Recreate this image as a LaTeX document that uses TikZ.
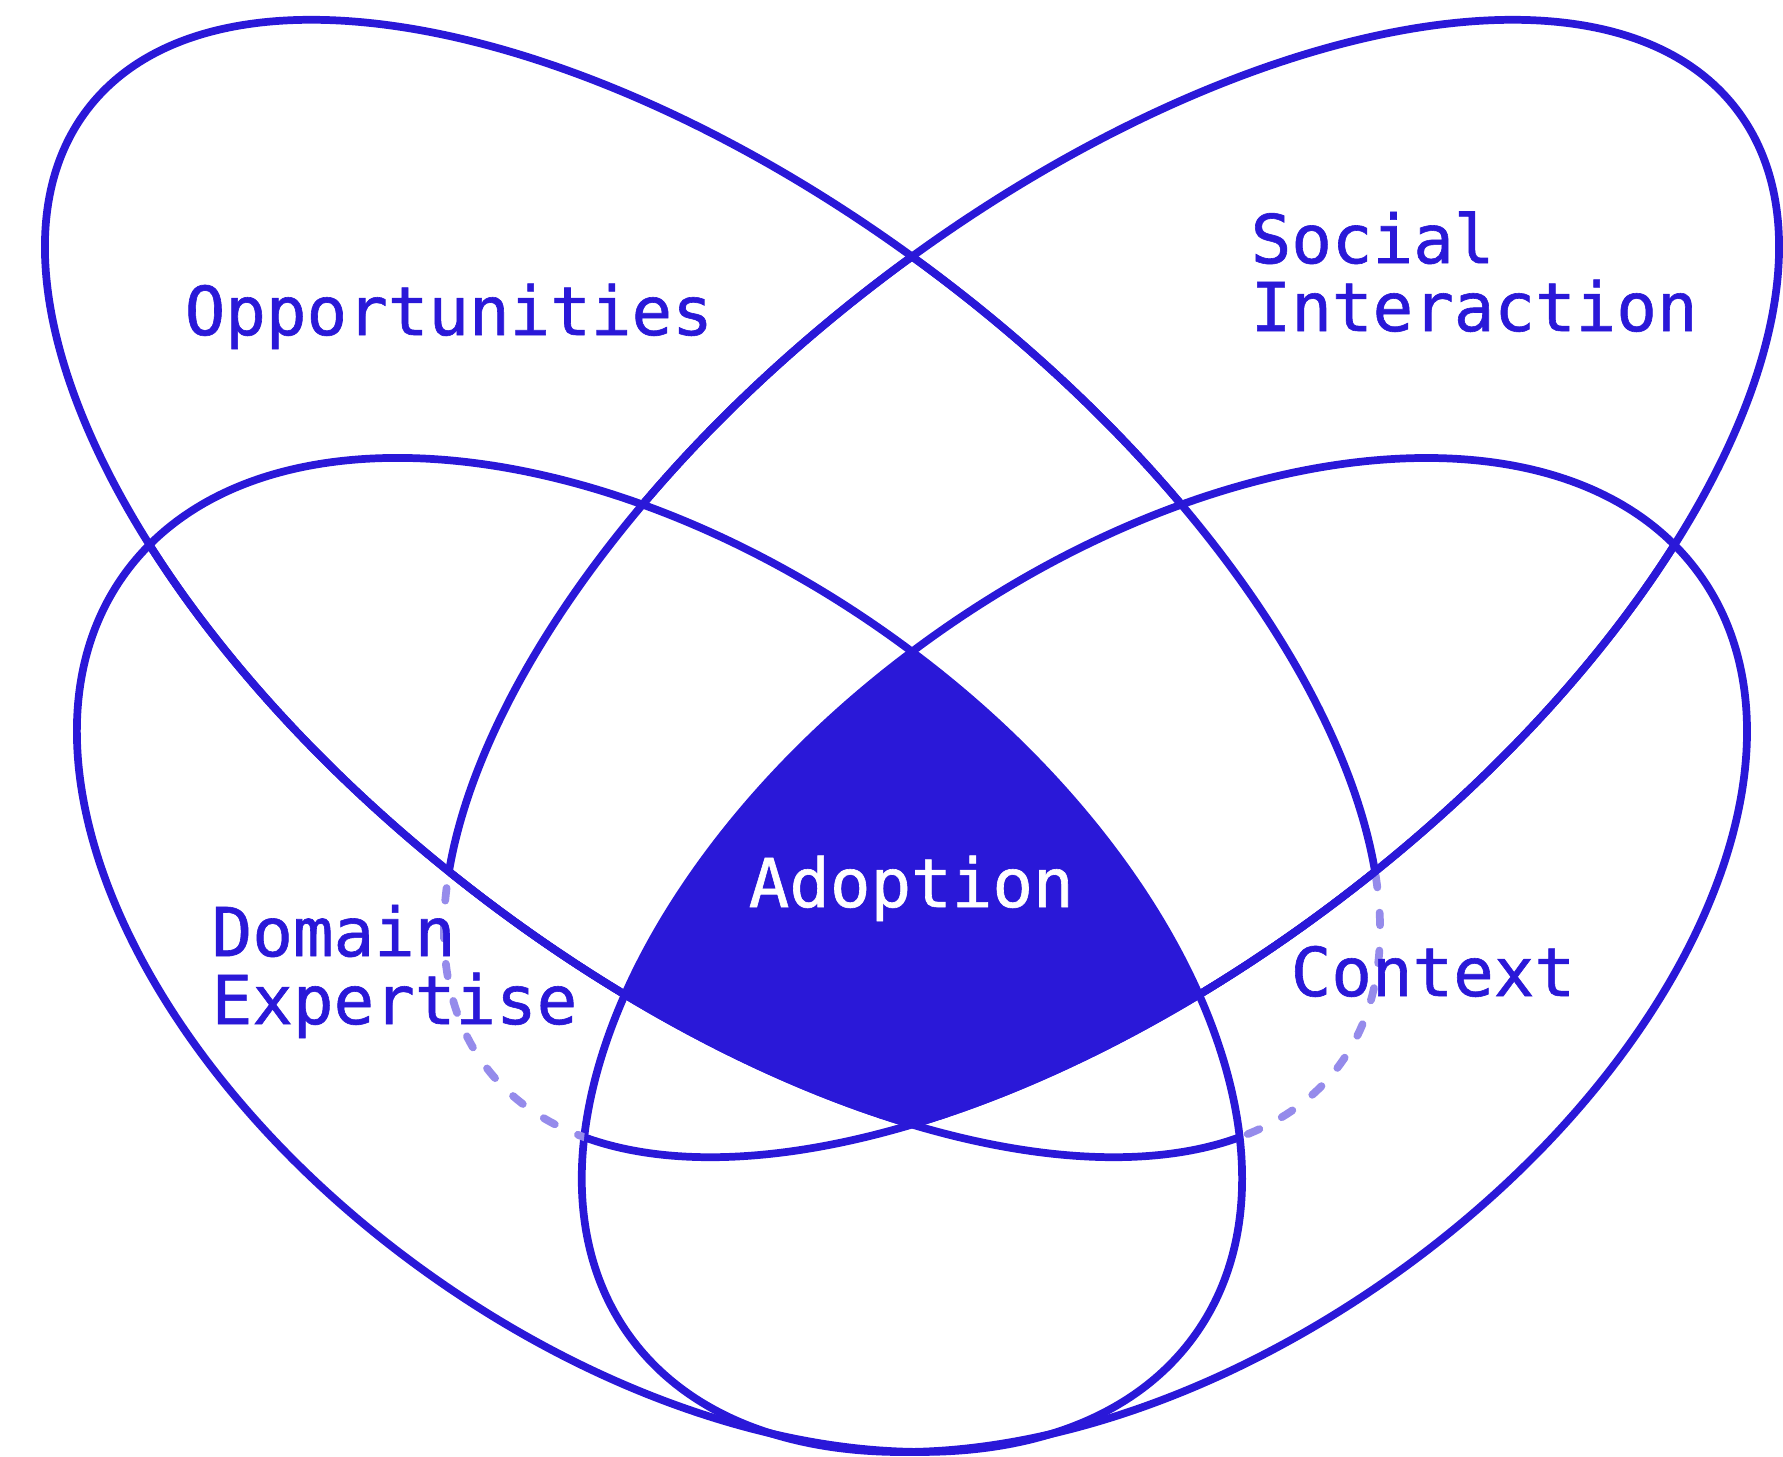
\documentclass[tikz,border=0pt]{standalone}
\usepackage{fontspec}
\newfontfamily\vennfont[FakeBold=0.9]{DejaVu Sans Mono}
\usepackage{tikz}
\definecolor{vennblue}{HTML}{2A18D8}
\tikzset{
  ringline/.style={draw=vennblue, line width=2.2pt},
  hiddenline/.style={
    draw=vennblue!50, line width=2.2pt, line cap=round,
    dash pattern=on 3.6pt off 7.2pt
  },
  setname/.style={
    text=#1, font=\vennfont\fontsize{19.2}{19.3}\selectfont,
    anchor=base west, inner sep=0pt, align=left
  },
  setname/.default=vennblue,
  opprot/.style={rotate around={-37.5:(oppc)}},
  socrot/.style={rotate around={37.5:(socc)}},
  domrot/.style={rotate around={-35.24:(domc)}},
  ctxrot/.style={rotate around={35.24:(ctxc)}}
}
\newcommand{\oppring}{(oppc) ellipse [x radius=7.876, y radius=3.854]}
\newcommand{\socring}{(socc) ellipse [x radius=7.876, y radius=3.854]}
\newcommand{\domring}{(domc) ellipse [x radius=6.567, y radius=3.938]}
\newcommand{\ctxring}{(ctxc) ellipse [x radius=6.567, y radius=3.938]}
% clockwise frame, so that frame + ring clips to the outside of the ring
\newcommand{\outframe}{(-30,30) -- (50,30) -- (50,-50) -- (-30,-50) -- cycle}

\begin{document}
\begin{tikzpicture}
    \useasboundingbox (0,0) rectangle (17.83,-14.57);
    % Centres of the four rings
    \coordinate (oppc) at (7.125,-5.885);
    \coordinate (socc) at (11.115,-5.885);
    \coordinate (domc) at (6.595,-9.55);
    \coordinate (ctxc) at (11.645,-9.55);

    % Core shared by all four rings
    \begin{scope}
      \clip[opprot] \oppring;
      \clip[socrot] \socring;
      \clip[domrot] \domring;
      \fill[vennblue, ctxrot] \ctxring;
    \end{scope}

    % Lower rings
    \draw[ringline, domrot] \domring;
    \draw[ringline, ctxrot] \ctxring;

    % Opportunities ring, solid part
    \begin{scope}
      \clip[socrot] \socring;
      \draw[ringline, opprot] \oppring;
    \end{scope}
    \begin{scope}
      \clip[domrot] \domring;
      \draw[ringline, opprot] \oppring;
    \end{scope}
    \begin{scope}
      \clip[ctxrot] \outframe \ctxring;
      \draw[ringline, opprot] \oppring;
    \end{scope}
    % Opportunities ring, hidden tip
    \begin{scope}
      \clip[ctxrot] \ctxring;
      \clip[socrot] \outframe \socring;
      \clip[domrot] \outframe \domring;
      \draw[hiddenline, opprot] \oppring;
    \end{scope}

    % Social ring, solid part
    \begin{scope}
      \clip[opprot] \oppring;
      \draw[ringline, socrot] \socring;
    \end{scope}
    \begin{scope}
      \clip[ctxrot] \ctxring;
      \draw[ringline, socrot] \socring;
    \end{scope}
    \begin{scope}
      \clip[domrot] \outframe \domring;
      \draw[ringline, socrot] \socring;
    \end{scope}
    % Social ring, hidden tip
    \begin{scope}
      \clip[domrot] \domring;
      \clip[opprot] \outframe \oppring;
      \clip[ctxrot] \outframe \ctxring;
      \draw[hiddenline, socrot] \socring;
    \end{scope}

    % Labels (base = last line)
    \node[setname] (opp) at (1.84,-3.35) {Opportunities};
    \node[setname] (soc) at (12.50,-3.31) {Social\\Interaction};
    \node[setname] (dom) at (2.11,-10.24) {Domain\\Expertise};
    \node[setname] (ctx) at (12.90,-9.96) {Context};
    \node[setname=white] (adopt) at (7.48,-9.07) {Adoption};
\end{tikzpicture}
\end{document}
